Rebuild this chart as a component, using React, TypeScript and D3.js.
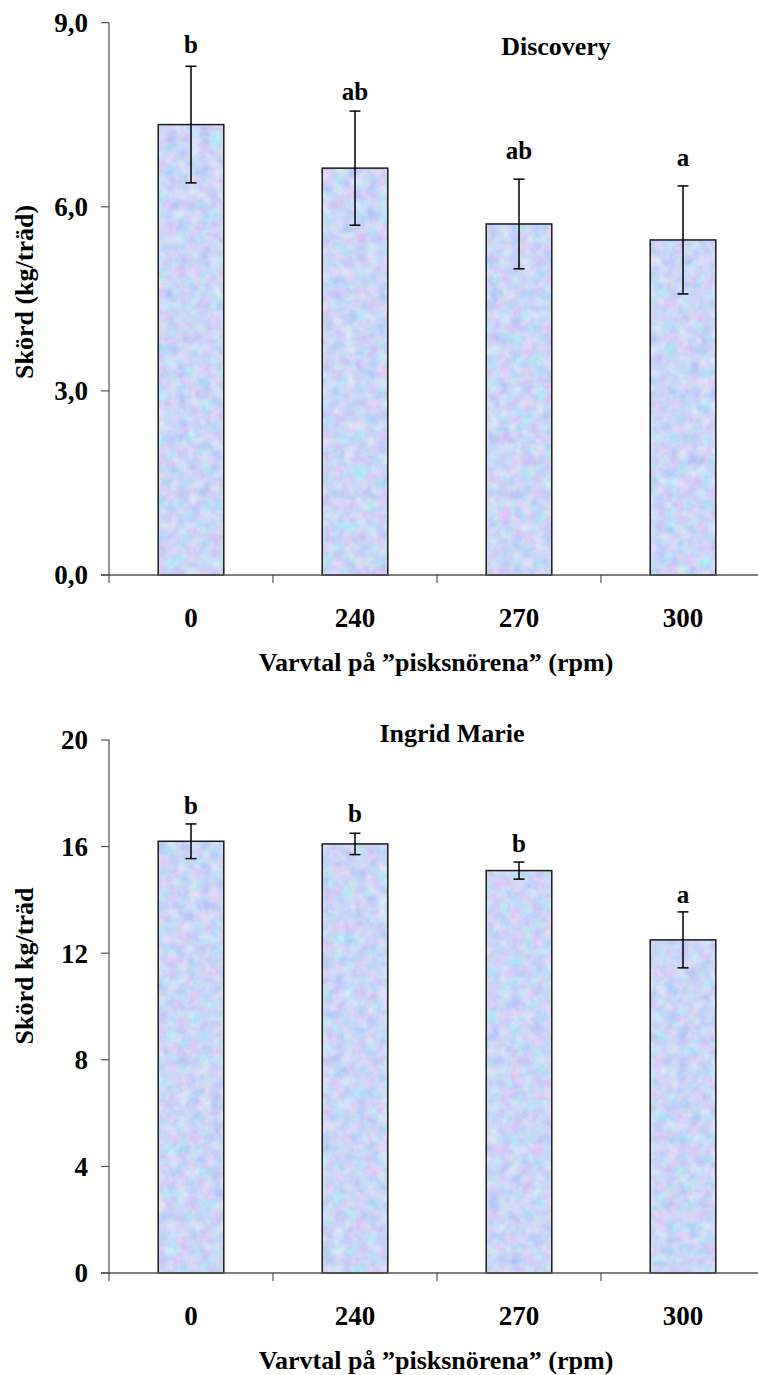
import React from 'react';
import * as d3 from 'd3';

// rotational speed of the whip strings (rpm)
const categories = ['0', '240', '270', '300'];

// Discovery
const discoveryMeans = [7.34, 6.63, 5.72, 5.46];
const discoveryErr = [0.95, 0.93, 0.73, 0.88];
const discoveryLetters = ['b', 'ab', 'ab', 'a'];
const discoveryLetterY = [8.51, 7.74, 6.78, 6.66];
const discoveryTicks = [0, 3, 6, 9];

// Ingrid Marie
const ingridMeans = [16.2, 16.1, 15.1, 12.5];
const ingridErr = [0.65, 0.4, 0.32, 1.05];
const ingridLetters = ['b', 'b', 'b', 'a'];
const ingridLetterY = [17.21, 16.93, 15.81, 13.88];
const ingridTicks = [0, 4, 8, 12, 16, 20];

const FONT = 'Liberation Serif, Times New Roman, Tinos, DejaVu Serif, serif';

type PanelProps = {
    means: number[];
    errs: number[];
    letters: string[];
    letterY: number[];
    ticks: number[];
    tickFmt: (v: number) => string;
    yTopPx: number;
    yBottomPx: number;
    title: string;
    titleX: number;
    titleY: number;
    yLabel: string;
    yLabelX: number;
    yLabelY: number;
};

function Panel(p: PanelProps) {
    const left = 109;
    const x = d3.scaleBand<string>()
        .domain(categories)
        .range([left, left + 656])
        .paddingInner(0.6)
        .paddingOuter(0.3);
    const y = d3.scaleLinear()
        .domain([0, p.ticks[p.ticks.length - 1]])
        .range([p.yBottomPx, p.yTopPx]);
    const step = x.step();
    const bw = x.bandwidth();
    const bounds = categories.map(c => (x(c) as number) + bw / 2 - step / 2);
    const base = y(0);
    const txt = {fontFamily: FONT, fontWeight: 'bold' as const};

    return (
        <g>
            {/* bars */}
            {categories.map((c, i) => (
                <g key={c}>
                    <rect x={x(c)} y={y(p.means[i])} width={bw} height={base - y(p.means[i])}
                          fill="#c4d8f4" filter="url(#tex)"/>
                    <rect x={x(c)} y={y(p.means[i])} width={bw} height={base - y(p.means[i])}
                          fill="none" stroke="#1a1a1a" strokeWidth={1.5}/>
                </g>
            ))}
            {/* error bars */}
            {categories.map((c, i) => {
                const cx = (x(c) as number) + bw / 2;
                const t = y(p.means[i] + p.errs[i]);
                const b = y(p.means[i] - p.errs[i]);
                return (
                    <g key={'e' + c} stroke="#000" strokeWidth={1.5}>
                        <line x1={cx} x2={cx} y1={t} y2={b}/>
                        <line x1={cx - 5.5} x2={cx + 5.5} y1={t} y2={t}/>
                        <line x1={cx - 5.5} x2={cx + 5.5} y1={b} y2={b}/>
                    </g>
                );
            })}
            {/* significance letters */}
            {categories.map((c, i) => (
                <text key={'l' + c} x={(x(c) as number) + bw / 2} y={y(p.letterY[i])}
                      textAnchor="middle" style={{...txt, fontSize: 25}}>
                    {p.letters[i]}
                </text>
            ))}
            {/* y axis */}
            <line x1={left} x2={left} y1={y(p.ticks[p.ticks.length - 1])} y2={base} stroke="#333" strokeWidth={1}/>
            {p.ticks.map(t => (
                <g key={'t' + t}>
                    <line x1={left - 8} x2={left} y1={y(t)} y2={y(t)} stroke="#333" strokeWidth={1}/>
                    <text x={left - 21} y={y(t)} dy="0.35em" textAnchor="end" style={{...txt, fontSize: 27}}>
                        {p.tickFmt(t)}
                    </text>
                </g>
            ))}
            {/* x axis */}
            <line x1={left - 8} x2={758} y1={base} y2={base} stroke="#555" strokeWidth={1.5}/>
            {bounds.map((bx, i) => (
                <line key={'b' + i} x1={bx} x2={bx} y1={base} y2={base + 8} stroke="#333" strokeWidth={1}/>
            ))}
            {categories.map(c => (
                <text key={'x' + c} x={(x(c) as number) + bw / 2} y={base + 52}
                      textAnchor="middle" style={{...txt, fontSize: 27}}>
                    {c}
                </text>
            ))}
            <text x={436} y={base + 96} textAnchor="middle" style={{...txt, fontSize: 26}}>
                Varvtal på ”pisksnörena” (rpm)
            </text>
            <text x={p.yLabelX} y={p.yLabelY} textAnchor="middle" dominantBaseline="central"
                  transform={`rotate(-90, ${p.yLabelX}, ${p.yLabelY})`} style={{...txt, fontSize: 26}}>
                {p.yLabel}
            </text>
            <text x={p.titleX} y={p.titleY} textAnchor="middle" style={{...txt, fontSize: 26}}>
                {p.title}
            </text>
        </g>
    );
}

export default function App() {
    const comma = (v: number) => v.toFixed(1).replace('.', ',');
    return (
        <svg width={758} height={1375} style={{position: 'absolute', left: 0, top: 0, background: '#fff'}}>
            <defs>
                <filter id="tex" x="0" y="0" width="100%" height="100%" colorInterpolationFilters="sRGB">
                    <feTurbulence type="fractalNoise" baseFrequency="0.09" numOctaves={4} seed={7} result="n"/>
                    <feColorMatrix in="n" type="matrix"
                                   values="0.35 0 0 0 0.615  0 0.25 0 0 0.715  0 0 0.05 0 0.935  0 0 0 0 1" result="c"/>
                    <feComposite in="c" in2="SourceGraphic" operator="in"/>
                </filter>
            </defs>
            <rect width={758} height={1375} fill="#fff"/>
            <Panel means={discoveryMeans} errs={discoveryErr} letters={discoveryLetters} letterY={discoveryLetterY}
                   ticks={discoveryTicks} tickFmt={comma} yTopPx={22.7} yBottomPx={575}
                   title="Discovery" titleX={556} titleY={55}
                   yLabel="Skörd (kg/träd)" yLabelX={24} yLabelY={292}/>
            <Panel means={ingridMeans} errs={ingridErr} letters={ingridLetters} letterY={ingridLetterY}
                   ticks={ingridTicks} tickFmt={v => String(v)} yTopPx={740} yBottomPx={1273}
                   title="Ingrid Marie" titleX={452} titleY={742}
                   yLabel="Skörd kg/träd" yLabelX={24} yLabelY={966}/>
        </svg>
    );
}
